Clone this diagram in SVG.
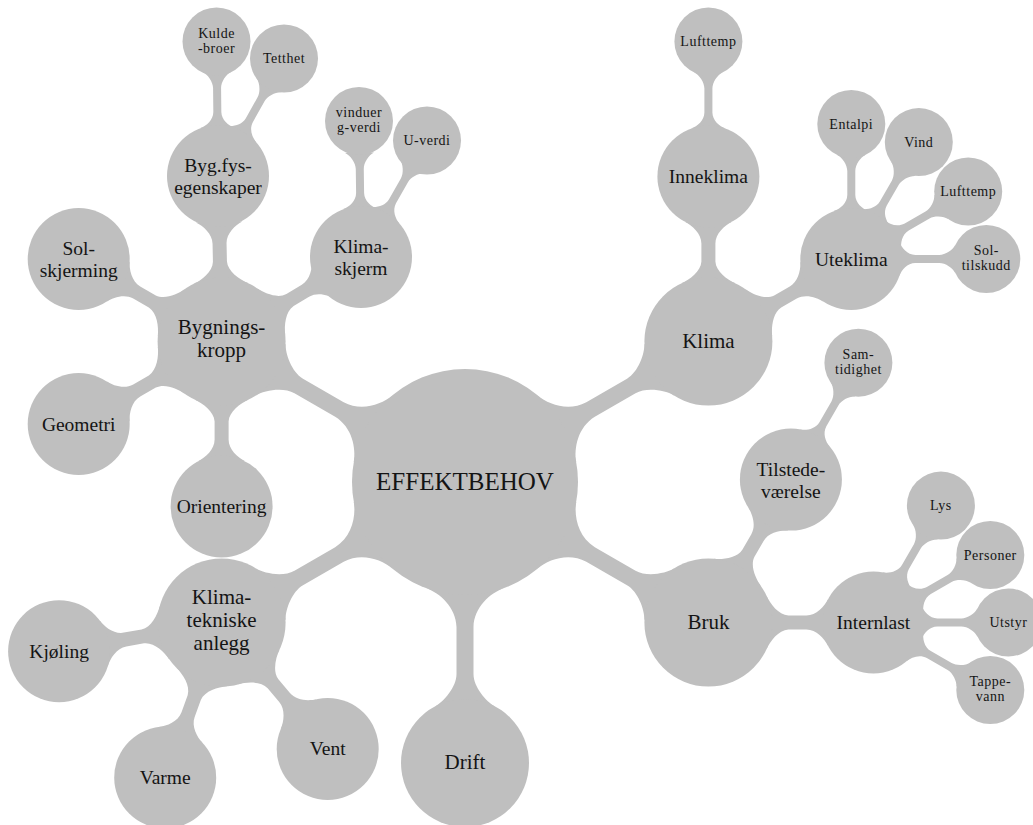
<svg xmlns="http://www.w3.org/2000/svg" width="1033" height="825" viewBox="0 0 1033 825">
<style>
.n{fill:#bfbfbf}
#connectors{fill:#bfbfbf}
text{font-family:"Liberation Serif","DejaVu Serif",serif;fill:#141414;text-anchor:middle}
.t0{font-size:25px}
.t1{font-size:21px}
.t2{font-size:19.5px}
.t3{font-size:14px;letter-spacing:0.5px}
</style>
<defs>
<path id="k1" d="M106.2,38.6 C111,25.4 125,9 145,8.5 L192,8.5 C205,8.5 219.8,21.2 224.5,30 L224.5,-30 C219.8,-21.2 205,-8.5 192,-8.5 L145,-8.5 C125,-9 111,-25.4 106.2,-38.6 Z"/>
<path id="k2" d="M58,27 C61.8,18.8 70,7.5 80,7 L98,7 C108,7 116,16.1 119.6,23.2 L119.6,-23.2 C116,-16.1 108,-7 98,-7 L80,-7 C70,-7.5 61.8,-18.8 58,-27 Z"/>
<path id="k3" d="M47.9,17.4 C50.3,10.8 56,4.2 64,4 L88,4 C94,4 101.7,9 104.2,14.4 L104.2,-14.4 C101.7,-9 94,-4 88,-4 L64,-4 C56,-4.2 50.3,-10.8 47.9,-17.4 Z"/>
</defs>
<rect width="1033" height="825" fill="#ffffff"/>
<g id="connectors">
<use href="#k1" transform="translate(465,482) rotate(-30)"/>
<use href="#k1" transform="translate(465,482) rotate(30)"/>
<use href="#k1" transform="translate(465,482) rotate(90)"/>
<use href="#k1" transform="translate(465,482) rotate(-150)"/>
<use href="#k1" transform="translate(465,482) rotate(150)"/>
<use href="#k2" transform="translate(708.4,341.5) rotate(-90)"/>
<use href="#k2" transform="translate(708.4,341.5) rotate(-30)"/>
<use href="#k2" transform="translate(708.4,622.5) rotate(-60)"/>
<use href="#k2" transform="translate(708.4,622.5) rotate(0)"/>
<use href="#k2" transform="translate(221.6,341.5) rotate(-150)"/>
<use href="#k2" transform="translate(221.6,341.5) rotate(-91.2)"/>
<use href="#k2" transform="translate(221.6,341.5) rotate(-31.2)"/>
<use href="#k2" transform="translate(221.6,341.5) rotate(150)"/>
<use href="#k2" transform="translate(221.6,341.5) rotate(90)"/>
<use href="#k2" transform="translate(221.6,622.5) rotate(170)"/>
<use href="#k2" transform="translate(221.6,622.5) rotate(110)"/>
<use href="#k2" transform="translate(221.6,622.5) rotate(50)"/>
<use href="#k3" transform="translate(708.4,176.5) rotate(-90)"/>
<use href="#k3" transform="translate(851.3,259) rotate(-90)"/>
<use href="#k3" transform="translate(851.3,259) rotate(-60)"/>
<use href="#k3" transform="translate(851.3,259) rotate(-30)"/>
<use href="#k3" transform="translate(851.3,259) rotate(0)"/>
<use href="#k3" transform="translate(790.9,479.6) rotate(-60)"/>
<use href="#k3" transform="translate(873.4,622.5) rotate(-60)"/>
<use href="#k3" transform="translate(873.4,622.5) rotate(-30)"/>
<use href="#k3" transform="translate(873.4,622.5) rotate(0)"/>
<use href="#k3" transform="translate(873.4,622.5) rotate(30)"/>
<use href="#k3" transform="translate(218,176) rotate(-90.6)"/>
<use href="#k3" transform="translate(218,176) rotate(-60.7)"/>
<use href="#k3" transform="translate(361,257) rotate(-90.8)"/>
<use href="#k3" transform="translate(361,257) rotate(-60.5)"/>
</g>
<g id="effektbehov"><circle class="n" cx="465" cy="482" r="113"/><text class="t0" x="465" y="490">EFFEKTBEHOV</text></g>
<g id="klima"><circle class="n" cx="708.4" cy="341.5" r="64"/><text class="t1" x="708.4" y="347.5">Klima</text></g>
<g id="bruk"><circle class="n" cx="708.4" cy="622.5" r="64"/><text class="t1" x="708.4" y="629">Bruk</text></g>
<g id="drift"><circle class="n" cx="465" cy="763" r="64"/><text class="t1" x="465" y="769">Drift</text></g>
<g id="bygningskropp"><circle class="n" cx="221.6" cy="341.5" r="64"/><text class="t1" x="221.6" y="334">Bygnings-</text><text class="t1" x="221.6" y="357">kropp</text></g>
<g id="klimatekniske"><circle class="n" cx="221.6" cy="622.5" r="64"/><text class="t1" x="221.6" y="604">Klima-</text><text class="t1" x="221.6" y="627">tekniske</text><text class="t1" x="221.6" y="650">anlegg</text></g>
<g id="inneklima"><circle class="n" cx="708.4" cy="176.5" r="51"/><text class="t2" x="708.4" y="183">Inneklima</text></g>
<g id="uteklima"><circle class="n" cx="851.3" cy="259" r="51"/><text class="t2" x="851.3" y="265.5">Uteklima</text></g>
<g id="tilstedevaerelse"><circle class="n" cx="790.9" cy="479.6" r="51"/><text class="t2" x="790.9" y="475.6">Tilstede-</text><text class="t2" x="790.9" y="497.6">værelse</text></g>
<g id="internlast"><circle class="n" cx="873.4" cy="622.5" r="51"/><text class="t2" x="873.4" y="629">Internlast</text></g>
<g id="solskjerming"><circle class="n" cx="78.7" cy="259" r="51"/><text class="t2" x="78.7" y="255">Sol-</text><text class="t2" x="78.7" y="277">skjerming</text></g>
<g id="bygfys"><circle class="n" cx="218" cy="176" r="51"/><text class="t2" x="218" y="172">Byg.fys-</text><text class="t2" x="218" y="194">egenskaper</text></g>
<g id="klimaskjerm"><circle class="n" cx="361" cy="257" r="51"/><text class="t2" x="361" y="253">Klima-</text><text class="t2" x="361" y="275">skjerm</text></g>
<g id="geometri"><circle class="n" cx="78.7" cy="424" r="51"/><text class="t2" x="78.7" y="430.5">Geometri</text></g>
<g id="orientering"><circle class="n" cx="221.6" cy="506.5" r="51"/><text class="t2" x="221.6" y="513">Orientering</text></g>
<g id="kjoling"><circle class="n" cx="59.1" cy="651.2" r="51"/><text class="t2" x="59.1" y="657.7">Kjøling</text></g>
<g id="varme"><circle class="n" cx="165.2" cy="777.5" r="51"/><text class="t2" x="165.2" y="784">Varme</text></g>
<g id="vent"><circle class="n" cx="327.7" cy="748.9" r="51"/><text class="t2" x="327.7" y="755.4">Vent</text></g>
<g id="lufttemp-inne"><circle class="n" cx="708.4" cy="41.5" r="34"/><text class="t3" x="708.4" y="46">Lufttemp</text></g>
<g id="entalpi"><circle class="n" cx="851.3" cy="124" r="34"/><text class="t3" x="851.3" y="128.5">Entalpi</text></g>
<g id="vind"><circle class="n" cx="918.8" cy="142.1" r="34"/><text class="t3" x="918.8" y="146.6">Vind</text></g>
<g id="lufttemp-ute"><circle class="n" cx="968.2" cy="191.5" r="34"/><text class="t3" x="968.2" y="196">Lufttemp</text></g>
<g id="soltilskudd"><circle class="n" cx="986.3" cy="259" r="34"/><text class="t3" x="986.3" y="255">Sol-</text><text class="t3" x="986.3" y="270">tilskudd</text></g>
<g id="samtidighet"><circle class="n" cx="858.4" cy="362.7" r="34"/><text class="t3" x="858.4" y="358.7">Sam-</text><text class="t3" x="858.4" y="373.7">tidighet</text></g>
<g id="lys"><circle class="n" cx="940.9" cy="505.6" r="34"/><text class="t3" x="940.9" y="510">Lys</text></g>
<g id="personer"><circle class="n" cx="990.3" cy="555" r="34"/><text class="t3" x="990.3" y="559.5">Personer</text></g>
<g id="utstyr"><circle class="n" cx="1008.4" cy="622.5" r="34"/><text class="t3" x="1008.4" y="627">Utstyr</text></g>
<g id="tappevann"><circle class="n" cx="990.3" cy="690" r="34"/><text class="t3" x="990.3" y="686">Tappe-</text><text class="t3" x="990.3" y="701">vann</text></g>
<g id="kuldebroer"><circle class="n" cx="216.5" cy="41.5" r="34"/><text class="t3" x="216.5" y="37.5">Kulde</text><text class="t3" x="216.5" y="52.5">-broer</text></g>
<g id="tetthet"><circle class="n" cx="284" cy="58.5" r="34"/><text class="t3" x="284" y="63">Tetthet</text></g>
<g id="vinduer"><circle class="n" cx="359" cy="121" r="34"/><text class="t3" x="359" y="117">vinduer</text><text class="t3" x="359" y="132">g-verdi</text></g>
<g id="uverdi"><circle class="n" cx="427" cy="140.5" r="34"/><text class="t3" x="427" y="145">U-verdi</text></g>
</svg>
